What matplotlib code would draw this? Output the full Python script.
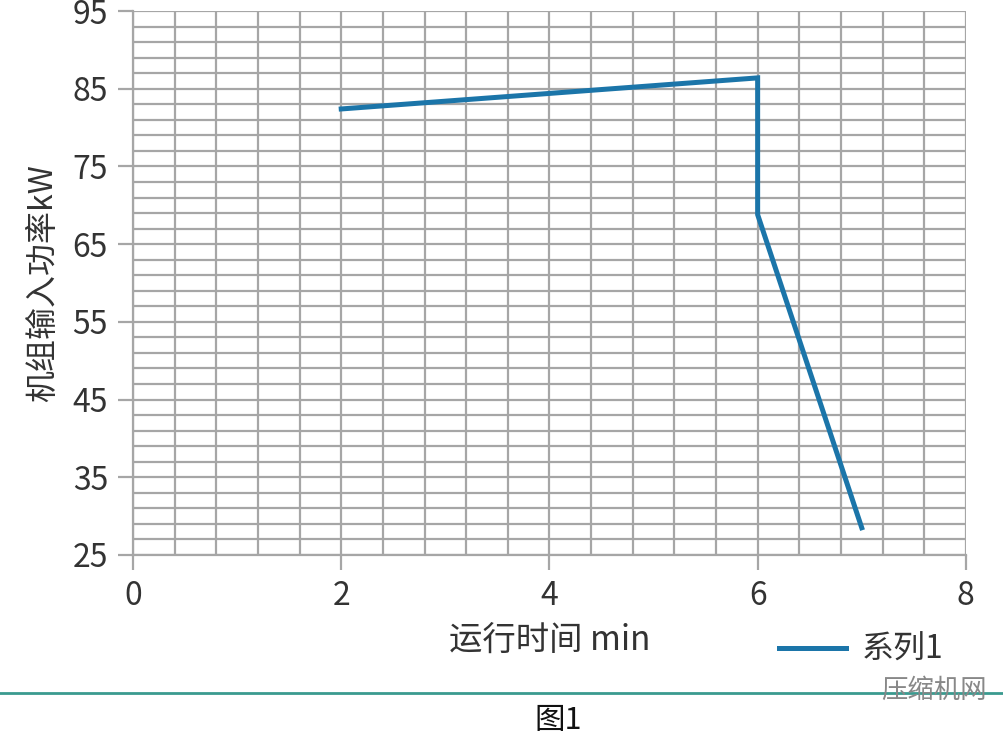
import matplotlib
matplotlib.use("Agg")
import matplotlib.pyplot as plt
from matplotlib.ticker import FixedLocator, MultipleLocator

plt.rcParams["font.family"] = ["Noto Sans CJK SC", "DejaVu Sans"]

# 数据
time_min = [2, 6, 6, 7]
power_kw = [82.4, 86.4, 68.8, 28.5]
series_name = "系列1"

x_label = "运行时间 min"
y_label = "机组输入功率kW"
caption = "图1"
watermark = "压缩机网"

y_major = [25, 35, 45, 55, 65, 75, 85, 95]
y_minor = list(range(25, 96, 2))

grid_color = "#a6a6a6"
line_color = "#1b75a9"
text_color = "#333333"

fig = plt.figure(figsize=(10.04, 7.37), dpi=100)
ax = fig.add_axes([0.1325, 0.247, 0.8295, 0.738])

ax.plot(time_min, power_kw, color=line_color, linewidth=3.6,
        solid_joinstyle="miter", label=series_name)

ax.set_xlim(0, 8)
ax.set_ylim(25, 95)
ax.xaxis.set_major_locator(MultipleLocator(2))
ax.xaxis.set_minor_locator(MultipleLocator(0.4))
ax.yaxis.set_major_locator(FixedLocator(y_major))
ax.yaxis.set_minor_locator(FixedLocator(y_minor))

ax.grid(which="both", color=grid_color, linewidth=1.6)
ax.set_axisbelow(True)
for s in ["top", "right"]:
    ax.spines[s].set_visible(False)
for s in ["left", "bottom"]:
    ax.spines[s].set_color(grid_color)
    ax.spines[s].set_linewidth(1.6)

ax.tick_params(which="major", length=11, width=1.6, color=grid_color,
               labelsize=23, labelcolor=text_color, pad=7)
ax.tick_params(which="minor", length=0)

ax.set_xlabel(x_label, fontsize=24, color=text_color, labelpad=8)
ax.set_ylabel(y_label, fontsize=23, color=text_color, labelpad=10)

leg = fig.legend(loc="center left", bbox_to_anchor=(0.747, 0.118), frameon=False,
                 fontsize=23, handlelength=2.1, handletextpad=0.5)
for t in leg.get_texts():
    t.set_color(text_color)

# 底部装饰线和图注
fig.add_artist(plt.Line2D([0, 1], [0.06, 0.06], color="#3a9a8f", linewidth=2,
                          transform=fig.transFigure))
fig.text(0.556, 0.022, caption, ha="center", va="center", fontsize=22, color="#111111")
fig.text(0.93, 0.063, watermark, ha="center", va="center", fontsize=19, color="#888888")

fig.savefig("out.png", dpi=100)
